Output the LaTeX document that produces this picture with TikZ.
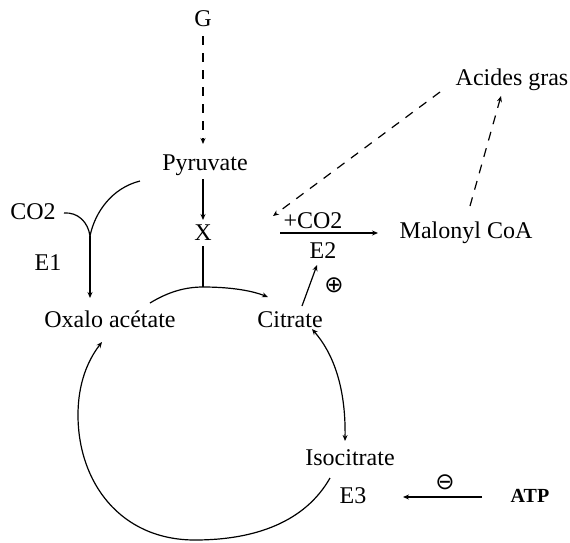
\documentclass[tikz,border=0pt]{standalone}
\usepackage{fontspec}
\setmainfont{Liberation Serif}
\newfontfamily\symf{DejaVu Sans}
\usetikzlibrary{arrows.meta}
\begin{document}
\begin{tikzpicture}[x=1pt,y=-1pt,
  lbl/.style={font=\fontsize{24}{24}\selectfont,inner sep=0pt,anchor=base},
  sym/.style={font=\symf\fontsize{23}{23}\selectfont,inner sep=0pt},
  ln/.style={line width=1.2pt,black},
  tip/.style={-{Stealth[length=6pt,width=5pt]}},
  dsh/.style={dash pattern=on 9pt off 8pt}]
\useasboundingbox (0,0) rectangle (570,542);
% text nodes
\node[lbl] (G) at (203,26) {G};
\node[lbl] (pyr) at (205,170) {Pyruvate};
\node[lbl] (X) at (203,240) {X};
\node[lbl] (co2) at (33,219) {CO2};
\node[lbl] (E1) at (48,270) {E1};
\node[lbl] (oxa) at (110,327) {Oxalo acétate};
\node[lbl] (cit) at (290,327) {Citrate};
\node[lbl] (ag) at (512,85) {Acides gras};
\node[lbl] (pco2) at (313,228) {+CO2};
\node[lbl] (mal) at (466,238) {Malonyl CoA};
\node[lbl] (E2) at (323,258) {E2};
\node[lbl] (iso) at (350,465) {Isocitrate};
\node[lbl] (E3) at (353,503) {E3};
\node[inner sep=0pt,anchor=base,font=\bfseries\fontsize{20}{20}\selectfont] (atp) at (530,502) {ATP};
\node[sym] (plus) at (334,285) {⊕};
\node[sym] (minus) at (445,482) {⊖};
% coordinates
\coordinate (gbot) at (203,36);
\coordinate (pyrtop) at (203,144);
\coordinate (pyrbot) at (203,179);
\coordinate (xtop) at (203,220);
\coordinate (xbot) at (203,246);
\coordinate (top) at (203,287);
\coordinate (arcL) at (150,303);
\coordinate (arcR) at (268,297);
\coordinate (join) at (90,236);
\coordinate (e1tip) at (90,298);
\coordinate (pyrc) at (140,181);
\coordinate (co2c) at (64,213);
% G -> Pyruvate
\draw[ln,dsh,tip] (gbot) -- (pyrtop);
% Pyruvate -> X
\draw[ln,tip] (pyrbot) -- (xtop);
% X -> top of arc
\draw[ln] (xbot) -- (top);
% top arc to Citrate
\draw[ln,tip] (arcL) .. controls (168,292) and (185,287) .. (top)
   .. controls (228,287) and (250,290) .. (arcR);
% E1 branch
\draw[ln] (pyrc) .. controls (112,188) and (95,212) .. (join);
\draw[ln] (co2c) .. controls (78,212) and (88,222) .. (join);
\draw[ln,tip] (join) -- (e1tip);
% E2 reaction arrow
\draw[ln,tip] (280,233) -- (378,233);
% Citrate -> E2
\draw[ln,tip] (302,306) -- (317,265);
% dashed to acides gras and back
\draw[ln,dsh,tip] (440,92) -- (273,216);
\draw[ln,dsh,tip] (470,206) -- (501,96);
% Citrate <-> Isocitrate
\draw[ln,{Stealth[length=6pt,width=5pt]}-{Stealth[length=6pt,width=5pt]}] (312,329) .. controls (332,352) and (346,385) .. (345,441);
% big cycle Isocitrate -> Oxalo acetate
\draw[ln,tip] (330,478) .. controls (305,522) and (255,540) .. (195,540)
   .. controls (120,540) and (78,482) .. (78,415)
   .. controls (78,383) and (88,360) .. (102,342);
% ATP inhibition
\draw[ln,tip] (482,497) -- (403,497);
\end{tikzpicture}
\end{document}
